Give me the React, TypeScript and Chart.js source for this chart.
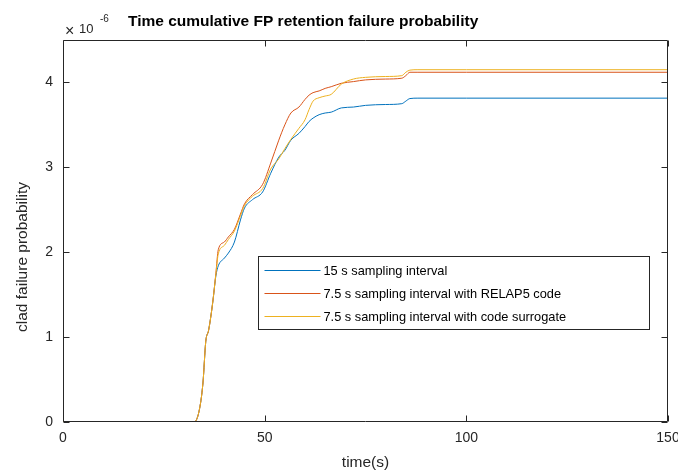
import React, { useEffect, useRef } from "react";
import { Chart, registerables } from "chart.js";

Chart.register(...registerables);

// Data (y values in units of 1e-6)
const timeS = [0, 32.5, 33.7, 34.7, 35.4, 36.1, 37.1, 37.9, 38.5, 40, 41, 42.5, 44, 45, 47, 49.5, 51.5, 53.5, 55, 56.5, 58.5, 60, 61, 62, 63.5, 65, 66.5, 69, 72, 75, 80, 84, 85, 86, 88, 100, 150];
const interval15 = [0, 0, 0.12, 0.46, 0.95, 1.08, 1.40, 1.72, 1.84, 1.93, 1.99, 2.12, 2.38, 2.52, 2.62, 2.71, 2.93, 3.12, 3.20, 3.32, 3.40, 3.48, 3.54, 3.58, 3.62, 3.64, 3.65, 3.70, 3.71, 3.73, 3.74, 3.75, 3.78, 3.81, 3.815, 3.815, 3.815];
const interval75Relap = [0, 0, 0.12, 0.46, 0.95, 1.08, 1.40, 1.75, 2.03, 2.12, 2.18, 2.27, 2.45, 2.57, 2.68, 2.80, 3.05, 3.32, 3.50, 3.64, 3.71, 3.80, 3.85, 3.88, 3.90, 3.93, 3.95, 3.99, 4.01, 4.03, 4.04, 4.05, 4.08, 4.12, 4.12, 4.12, 4.12];
const interval75Surrogate = [0, 0, 0.12, 0.46, 0.95, 1.08, 1.40, 1.74, 1.98, 2.08, 2.15, 2.25, 2.43, 2.55, 2.66, 2.75, 2.98, 3.10, 3.22, 3.33, 3.46, 3.56, 3.68, 3.78, 3.82, 3.84, 3.86, 3.98, 4.04, 4.06, 4.07, 4.08, 4.12, 4.145, 4.15, 4.15, 4.15];

const seriesLabels = [
  "15 s sampling interval",
  "7.5 s sampling interval with RELAP5 code",
  "7.5 s sampling interval with code surrogate",
];
const seriesColors = ["#0072BD", "#D95319", "#EDB120"];
const xTicks = [0, 50, 100, 150];
const yTicks = [0, 1, 2, 3, 4];
const titleText = "Time cumulative FP retention failure probability";
const xLabel = "time(s)";
const yLabel = "clad failure probability";

const FONT = "'Liberation Sans', Arial, Helvetica, sans-serif";
const AX = "#262626";

const overlay = {
  id: "overlay",
  afterDraw(chart: any) {
    const { ctx, chartArea: a, scales } = chart;
    const xs = scales.x;
    const ys = scales.y;
    ctx.save();
    const L = Math.round(a.left) + 0.5;
    const R = Math.round(a.right) - 0.5;
    const T = Math.round(a.top) + 0.5;
    const B = Math.round(a.bottom) - 0.5;
    ctx.strokeStyle = AX;
    ctx.lineWidth = 1;
    ctx.beginPath();
    ctx.rect(L, T, R - L, B - T);
    ctx.stroke();
    const tl = 6;
    ctx.beginPath();
    xTicks.forEach((v) => {
      const p = Math.round(xs.getPixelForValue(v)) + 0.5;
      ctx.moveTo(p, B);
      ctx.lineTo(p, B - tl);
      ctx.moveTo(p, T);
      ctx.lineTo(p, T + tl);
    });
    yTicks.forEach((v) => {
      const p = Math.round(ys.getPixelForValue(v)) + 0.5;
      ctx.moveTo(L, p);
      ctx.lineTo(L + tl, p);
      ctx.moveTo(R, p);
      ctx.lineTo(R - tl, p);
    });
    ctx.stroke();

    // Title
    ctx.fillStyle = "#000";
    ctx.font = `bold 15.5px ${FONT}`;
    ctx.textAlign = "left";
    ctx.textBaseline = "alphabetic";
    ctx.fillText(titleText, 128, 26);

    // Exponent
    ctx.fillStyle = AX;
    ctx.font = `16px ${FONT}`;
    ctx.fillText("\u00D7", 65, 36);
    ctx.font = `13px ${FONT}`;
    ctx.fillText("10", 79, 33);
    ctx.font = `10px ${FONT}`;
    ctx.fillText("-6", 100, 22);

    // Axis labels
    ctx.font = `15.5px ${FONT}`;
    ctx.textAlign = "center";
    ctx.textBaseline = "middle";
    ctx.fillText(xLabel, (a.left + a.right) / 2, 463);
    ctx.save();
    ctx.translate(23, 257);
    ctx.rotate(-Math.PI / 2);
    ctx.fillText(yLabel, 0, 0);
    ctx.restore();

    // Legend
    const lx = a.left + 195.5;
    const ly = a.top + 216.5;
    const lw = 391;
    const lh = 73;
    ctx.fillStyle = "#fff";
    ctx.fillRect(lx, ly, lw, lh);
    ctx.strokeStyle = AX;
    ctx.strokeRect(lx, ly, lw, lh);
    ctx.font = `12.8px ${FONT}`;
    ctx.textAlign = "left";
    ctx.textBaseline = "middle";
    chart.data.datasets.forEach((ds: any, i: number) => {
      const yy = Math.round(ly + 13.5 + i * 23) + 0.5;
      ctx.strokeStyle = ds.borderColor;
      ctx.lineWidth = 1;
      ctx.beginPath();
      ctx.moveTo(lx + 6, yy);
      ctx.lineTo(lx + 62, yy);
      ctx.stroke();
      ctx.fillStyle = "#000";
      ctx.fillText(ds.label, lx + 65, yy + 0.5);
    });
    ctx.restore();
  },
};

export default function App() {
  const ref = useRef<HTMLCanvasElement | null>(null);
  useEffect(() => {
    document.body.style.margin = "0";
    const canvas = ref.current;
    if (!canvas) return;
    const series = [interval15, interval75Relap, interval75Surrogate];
    const chart = new Chart(canvas, {
      type: "line",
      data: {
        datasets: series.map((arr, i) => ({
          label: seriesLabels[i],
          data: timeS.map((t, k) => ({ x: t, y: arr[k] })),
          borderColor: seriesColors[i],
          backgroundColor: seriesColors[i],
          borderWidth: 1,
          pointRadius: 0,
          fill: false,
          cubicInterpolationMode: "monotone" as const,
          order: 3 - i,
        })),
      },
      options: {
        responsive: false,
        animation: false,
        devicePixelRatio: 1,
        layout: { padding: { top: 40, right: 10, left: 0, bottom: 0 } },
        plugins: {
          legend: { display: false },
          title: { display: false },
          tooltip: { enabled: false },
        },
        scales: {
          x: {
            type: "linear",
            min: 0,
            max: 150,
            afterBuildTicks: (s: any) => {
              s.ticks = xTicks.map((v) => ({ value: v }));
            },
            afterFit: (s: any) => {
              s.height = 52;
              s.paddingLeft = 0;
              s.paddingRight = 0;
            },
            grid: { display: false, drawTicks: false },
            border: { display: false },
            ticks: {
              padding: 8,
              color: AX,
              font: { family: FONT, size: 14 },
              maxRotation: 0,
            },
          },
          y: {
            type: "linear",
            min: 0,
            max: 4.5,
            afterBuildTicks: (s: any) => {
              s.ticks = yTicks.map((v) => ({ value: v }));
            },
            afterFit: (s: any) => {
              s.width = 63;
              s.paddingTop = 0;
              s.paddingBottom = 0;
            },
            grid: { display: false, drawTicks: false },
            border: { display: false },
            ticks: {
              padding: 10,
              color: AX,
              font: { family: FONT, size: 14 },
            },
          },
        },
      },
      plugins: [overlay],
    });
    return () => chart.destroy();
  }, []);
  return (
    <div style={{ width: 678, height: 474 }}>
      <canvas ref={ref} width={678} height={474} style={{ display: "block" }} />
    </div>
  );
}
